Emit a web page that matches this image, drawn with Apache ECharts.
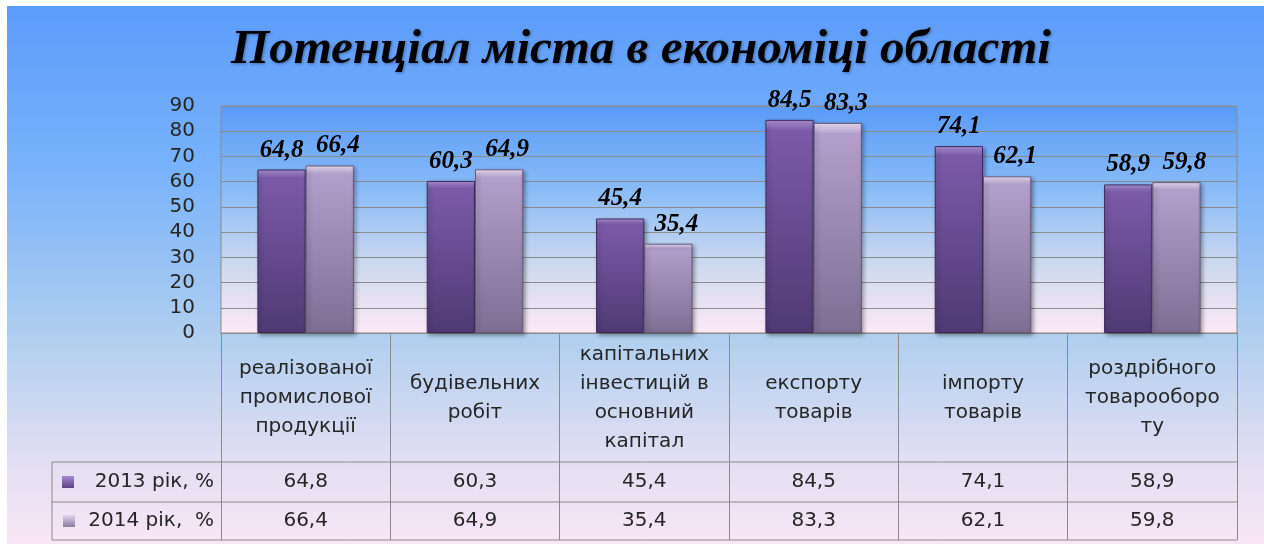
<!DOCTYPE html>
<html>
<head>
<meta charset="utf-8">
<script src="https://cdn.jsdelivr.net/npm/echarts@6/dist/echarts.min.js"></script>
<style>
  html, body { margin: 0; padding: 0; background: #fff; }
  #main { width: 1264px; height: 544px; }
</style>
</head>
<body>
<div id="main"></div>
<script>
// дані діаграми
var categories = [
    'реалізованої\nпромислової\nпродукції',
    'будівельних\nробіт',
    'капітальних\nінвестицій в\nосновний\nкапітал',
    'експорту\nтоварів',
    'імпорту\nтоварів',
    'роздрібного\nтоварооборо\nту'
];
var values2013 = [64.8, 60.3, 45.4, 84.5, 74.1, 58.9];
var values2014 = [66.4, 64.9, 35.4, 83.3, 62.1, 59.8];
var seriesNames = ['2013 рік, %', '2014 рік,  %'];
var yMin = 0, yMax = 90, yStep = 10;

function fmt(v) {
    return String(v).replace('.', ',');
}

var chart = echarts.init(document.getElementById('main'));

function labelStyle(dx) {
    return {
        show: true,
        position: 'top',
        distance: 7,
        offset: [dx, 0],
        fontFamily: 'Liberation Serif',
        fontStyle: 'italic',
        fontWeight: 'bold',
        fontSize: 25,
        color: '#000',
        formatter: function (p) { return fmt(p.value); }
    };
}

var option = {
    animation: false,
    title: {
        text: 'Потенціал міста в економіці області',
        left: 636,
        textAlign: 'center',
        top: 21,
        textStyle: {
            fontFamily: 'Liberation Serif',
            fontStyle: 'italic',
            fontWeight: 'bold',
            fontSize: 49,
            color: '#000',
            textShadowColor: 'rgba(0,0,0,0.35)',
            textShadowBlur: 3,
            textShadowOffsetX: 1,
            textShadowOffsetY: 1
        }
    },
    grid: {
        left: 221,
        top: 106,
        width: 1016,
        height: 227,
        show: true,
        borderColor: '#8a8a8a',
        borderWidth: 1,
        backgroundColor: new echarts.graphic.LinearGradient(0, 0, 0, 1, [
            {offset: 0, color: '#5a9bf9'},
            {offset: 0.35, color: '#86baf7'},
            {offset: 0.7, color: '#cdd9ef'},
            {offset: 1, color: '#fde9f7'}
        ])
    },
    xAxis: {
        type: 'category',
        data: categories,
        axisLine: {show: true, lineStyle: {color: '#8a8a8a', width: 1}},
        axisTick: {show: true, length: 207, lineStyle: {color: '#8a8a8a', width: 1}},
        axisLabel: {
            interval: 0,
            margin: 65,
            verticalAlign: 'middle',
            lineHeight: 29,
            fontFamily: 'DejaVu Sans',
            fontSize: 20,
            color: '#262626'
        }
    },
    yAxis: {
        type: 'value',
        min: yMin,
        max: yMax,
        interval: yStep,
        axisLine: {show: false},
        axisTick: {show: false},
        axisLabel: {
            margin: 26,
            fontFamily: 'DejaVu Sans',
            fontSize: 20,
            color: '#262626'
        },
        splitLine: {lineStyle: {color: '#8c8c8c', width: 1}}
    },
    series: [
        {
            name: seriesNames[0],
            type: 'bar',
            data: values2013,
            barGap: '0%',
            barCategoryGap: '43%',
            itemStyle: {
                color: new echarts.graphic.LinearGradient(0, 0, 0, 1, [
                    {offset: 0, color: '#b195dc'},
                    {offset: 0.05, color: '#7b5aa9'},
                    {offset: 1, color: '#4f3a74'}
                ]),
                borderColor: '#3c2b58',
                borderWidth: 1,
                shadowColor: 'rgba(0,0,0,0.35)',
                shadowBlur: 4,
                shadowOffsetX: 2,
                shadowOffsetY: 2
            },
            label: labelStyle(0)
        },
        {
            name: seriesNames[1],
            type: 'bar',
            data: values2014,
            itemStyle: {
                color: new echarts.graphic.LinearGradient(0, 0, 0, 1, [
                    {offset: 0, color: '#f3e6fb'},
                    {offset: 0.05, color: '#b29fcb'},
                    {offset: 1, color: '#7e6e93'}
                ]),
                borderColor: '#66597a',
                borderWidth: 1,
                shadowColor: 'rgba(0,0,0,0.35)',
                shadowBlur: 4,
                shadowOffsetX: 2,
                shadowOffsetY: 2
            },
            label: labelStyle(8)
        }
    ]
};
chart.setOption(option);

// таблиця даних під діаграмою
var right = 1237, tableLeft = 52;
var rowLines = [462, 502, 540];
var rowCenters = [482, 521];
var markColors = [
    ['#a789d2', '#5b4284'],
    ['#e4d6f0', '#8a7a9f']
];
var rows = [values2013, values2014];
var tableFont = '20px "DejaVu Sans"';
var graphics = [
    {
        type: 'rect', z: -10, silent: true,
        shape: {x: 7, y: 6, width: 1257, height: 538},
        style: {
            fill: new echarts.graphic.LinearGradient(0, 0, 0, 1, [
                {offset: 0, color: '#5c9cfb'},
                {offset: 0.3, color: '#78b2fb'},
                {offset: 0.62, color: '#b1cfef'},
                {offset: 0.85, color: '#e3dff3'},
                {offset: 1, color: '#f8e6f5'}
            ])
        }
    },
    {
        type: 'line', silent: true,
        shape: {x1: tableLeft, y1: rowLines[0], x2: tableLeft, y2: rowLines[2]},
        style: {stroke: '#8a8a8a', lineWidth: 1}
    }
];
rowLines.forEach(function (y) {
    graphics.push({
        type: 'line', silent: true,
        shape: {x1: tableLeft, y1: y, x2: right, y2: y},
        style: {stroke: '#8a8a8a', lineWidth: 1}
    });
});
rows.forEach(function (vals, r) {
    var cy = rowCenters[r];
    graphics.push({
        type: 'rect', silent: true,
        shape: {x: 62 + r, y: cy - 6, width: 12, height: 12},
        style: {
            fill: new echarts.graphic.LinearGradient(0, 0, 0, 1, [
                {offset: 0, color: markColors[r][0]},
                {offset: 1, color: markColors[r][1]}
            ])
        }
    });
    graphics.push({
        type: 'text', silent: true,
        style: {
            x: 214, y: cy, text: seriesNames[r],
            align: 'right', verticalAlign: 'middle',
            font: tableFont, fill: '#262626'
        }
    });
    vals.forEach(function (v, i) {
        var cx = chart.convertToPixel({xAxisIndex: 0}, i);
        graphics.push({
            type: 'text', silent: true,
            style: {
                x: cx, y: cy, text: fmt(v),
                align: 'center', verticalAlign: 'middle',
                font: tableFont, fill: '#262626'
            }
        });
    });
});
chart.setOption({graphic: graphics});
</script>
</body>
</html>
